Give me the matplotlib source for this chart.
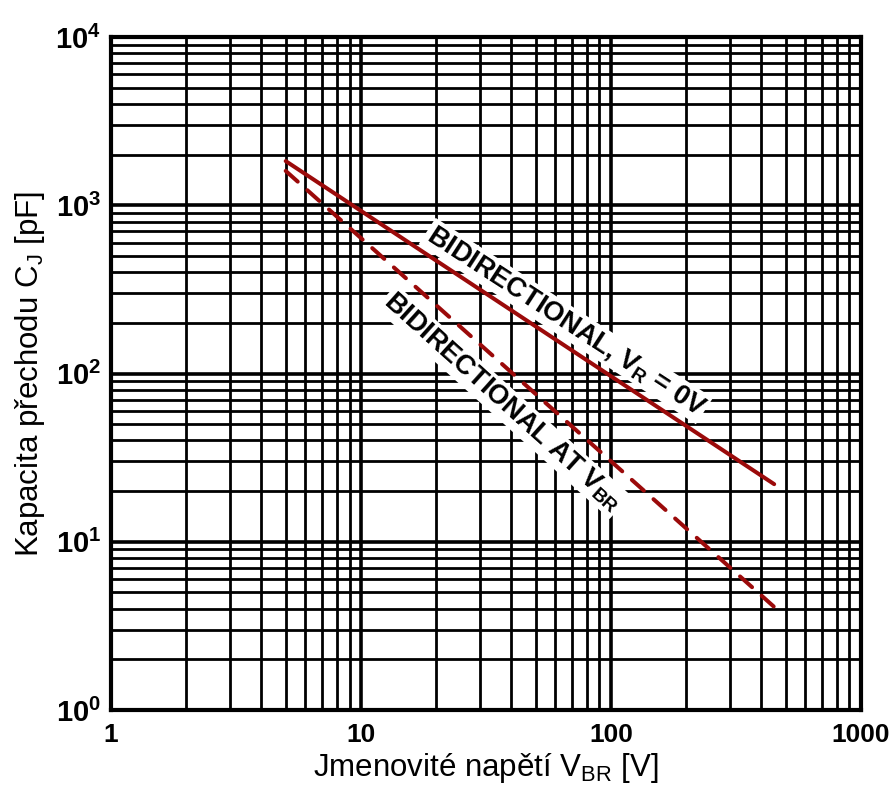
import numpy as np
import matplotlib
matplotlib.use("Agg")
import matplotlib.pyplot as plt
from matplotlib.ticker import FixedLocator, NullFormatter

plt.rcParams['font.family'] = ['Liberation Sans', 'DejaVu Sans']
plt.rcParams['mathtext.fontset'] = 'custom'
plt.rcParams['mathtext.rm'] = 'Liberation Sans'
plt.rcParams['mathtext.it'] = 'Liberation Sans:italic'
plt.rcParams['mathtext.bf'] = 'Liberation Sans:bold'

# data
x_zero_bias = [5, 450]      # BIDIRECTIONAL, VR = 0V
cj_zero_bias = [1830, 22]
x_at_vbr = [5, 450]         # BIDIRECTIONAL AT VBR
cj_at_vbr = [1600, 4.1]

x_ticks = [1, 10, 100, 1000]
x_ticklabels = ['1', '10', '100', '1000']
y_ticks = [1, 10, 100, 1000, 10000]
y_ticklabels = [r'$\mathbf{10^{%d}}$' % i for i in range(5)]

dark_red = '#9b0a0a'

fig = plt.figure(figsize=(8.93, 7.92), dpi=100)
ax = fig.add_axes([0.1243, 0.1035, 0.8397, 0.8498])

ax.set_xscale('log')
ax.set_yscale('log')
ax.set_xlim(1, 1000)
ax.set_ylim(1, 10000)

# grid - major and minor, all black
minor_x = [m * 10**d for d in range(3) for m in range(2, 10)]
minor_y = [m * 10**d for d in range(4) for m in range(2, 10)]
ax.xaxis.set_minor_locator(FixedLocator(minor_x))
ax.yaxis.set_minor_locator(FixedLocator(minor_y))
ax.xaxis.set_minor_formatter(NullFormatter())
ax.yaxis.set_minor_formatter(NullFormatter())
ax.grid(True, which='major', color='black', linewidth=2.6, zorder=0)
ax.grid(True, which='minor', color='black', linewidth=2.0, zorder=0)
ax.set_axisbelow(True)

ax.set_xticks(x_ticks)
ax.set_xticklabels(x_ticklabels, fontsize=19, fontweight='bold')
ax.set_yticks(y_ticks)
ax.set_yticklabels(y_ticklabels, fontsize=21)
ax.tick_params(which='both', length=0)
ax.tick_params(axis='x', pad=9)
ax.tick_params(axis='y', pad=7)

for s in ax.spines.values():
    s.set_linewidth(3)
    s.set_color('black')

ax.plot(x_zero_bias, cj_zero_bias, color=dark_red, linewidth=2.9,
        solid_capstyle='round', zorder=3)
ax.plot(x_at_vbr, cj_at_vbr, color=dark_red, linewidth=2.9,
        dashes=(4, 3.2), dash_capstyle='round', zorder=3)

box = dict(facecolor='white', edgecolor='none', pad=1.5)
ax.text(66, 205, r'BIDIRECTIONAL, V$_\mathbf{R}$ = 0V', fontsize=19.5,
        fontweight='bold', rotation=-33, ha='center', va='center',
        rotation_mode='anchor', bbox=box, zorder=4)
ax.text(37, 68, r'BIDIRECTIONAL AT V$_\mathbf{BR}$', fontsize=19.5,
        fontweight='bold', rotation=-42, ha='center', va='center',
        rotation_mode='anchor', bbox=box, zorder=4)

ax.set_xlabel(r'Jmenovité napětí V$_\mathregular{BR}$ [V]', fontsize=22.5, labelpad=3)
ax.set_ylabel(r'Kapacita přechodu C$_\mathregular{J}$ [pF]', fontsize=22.5, labelpad=6)

fig.savefig('out.png', dpi=100, facecolor='white')
